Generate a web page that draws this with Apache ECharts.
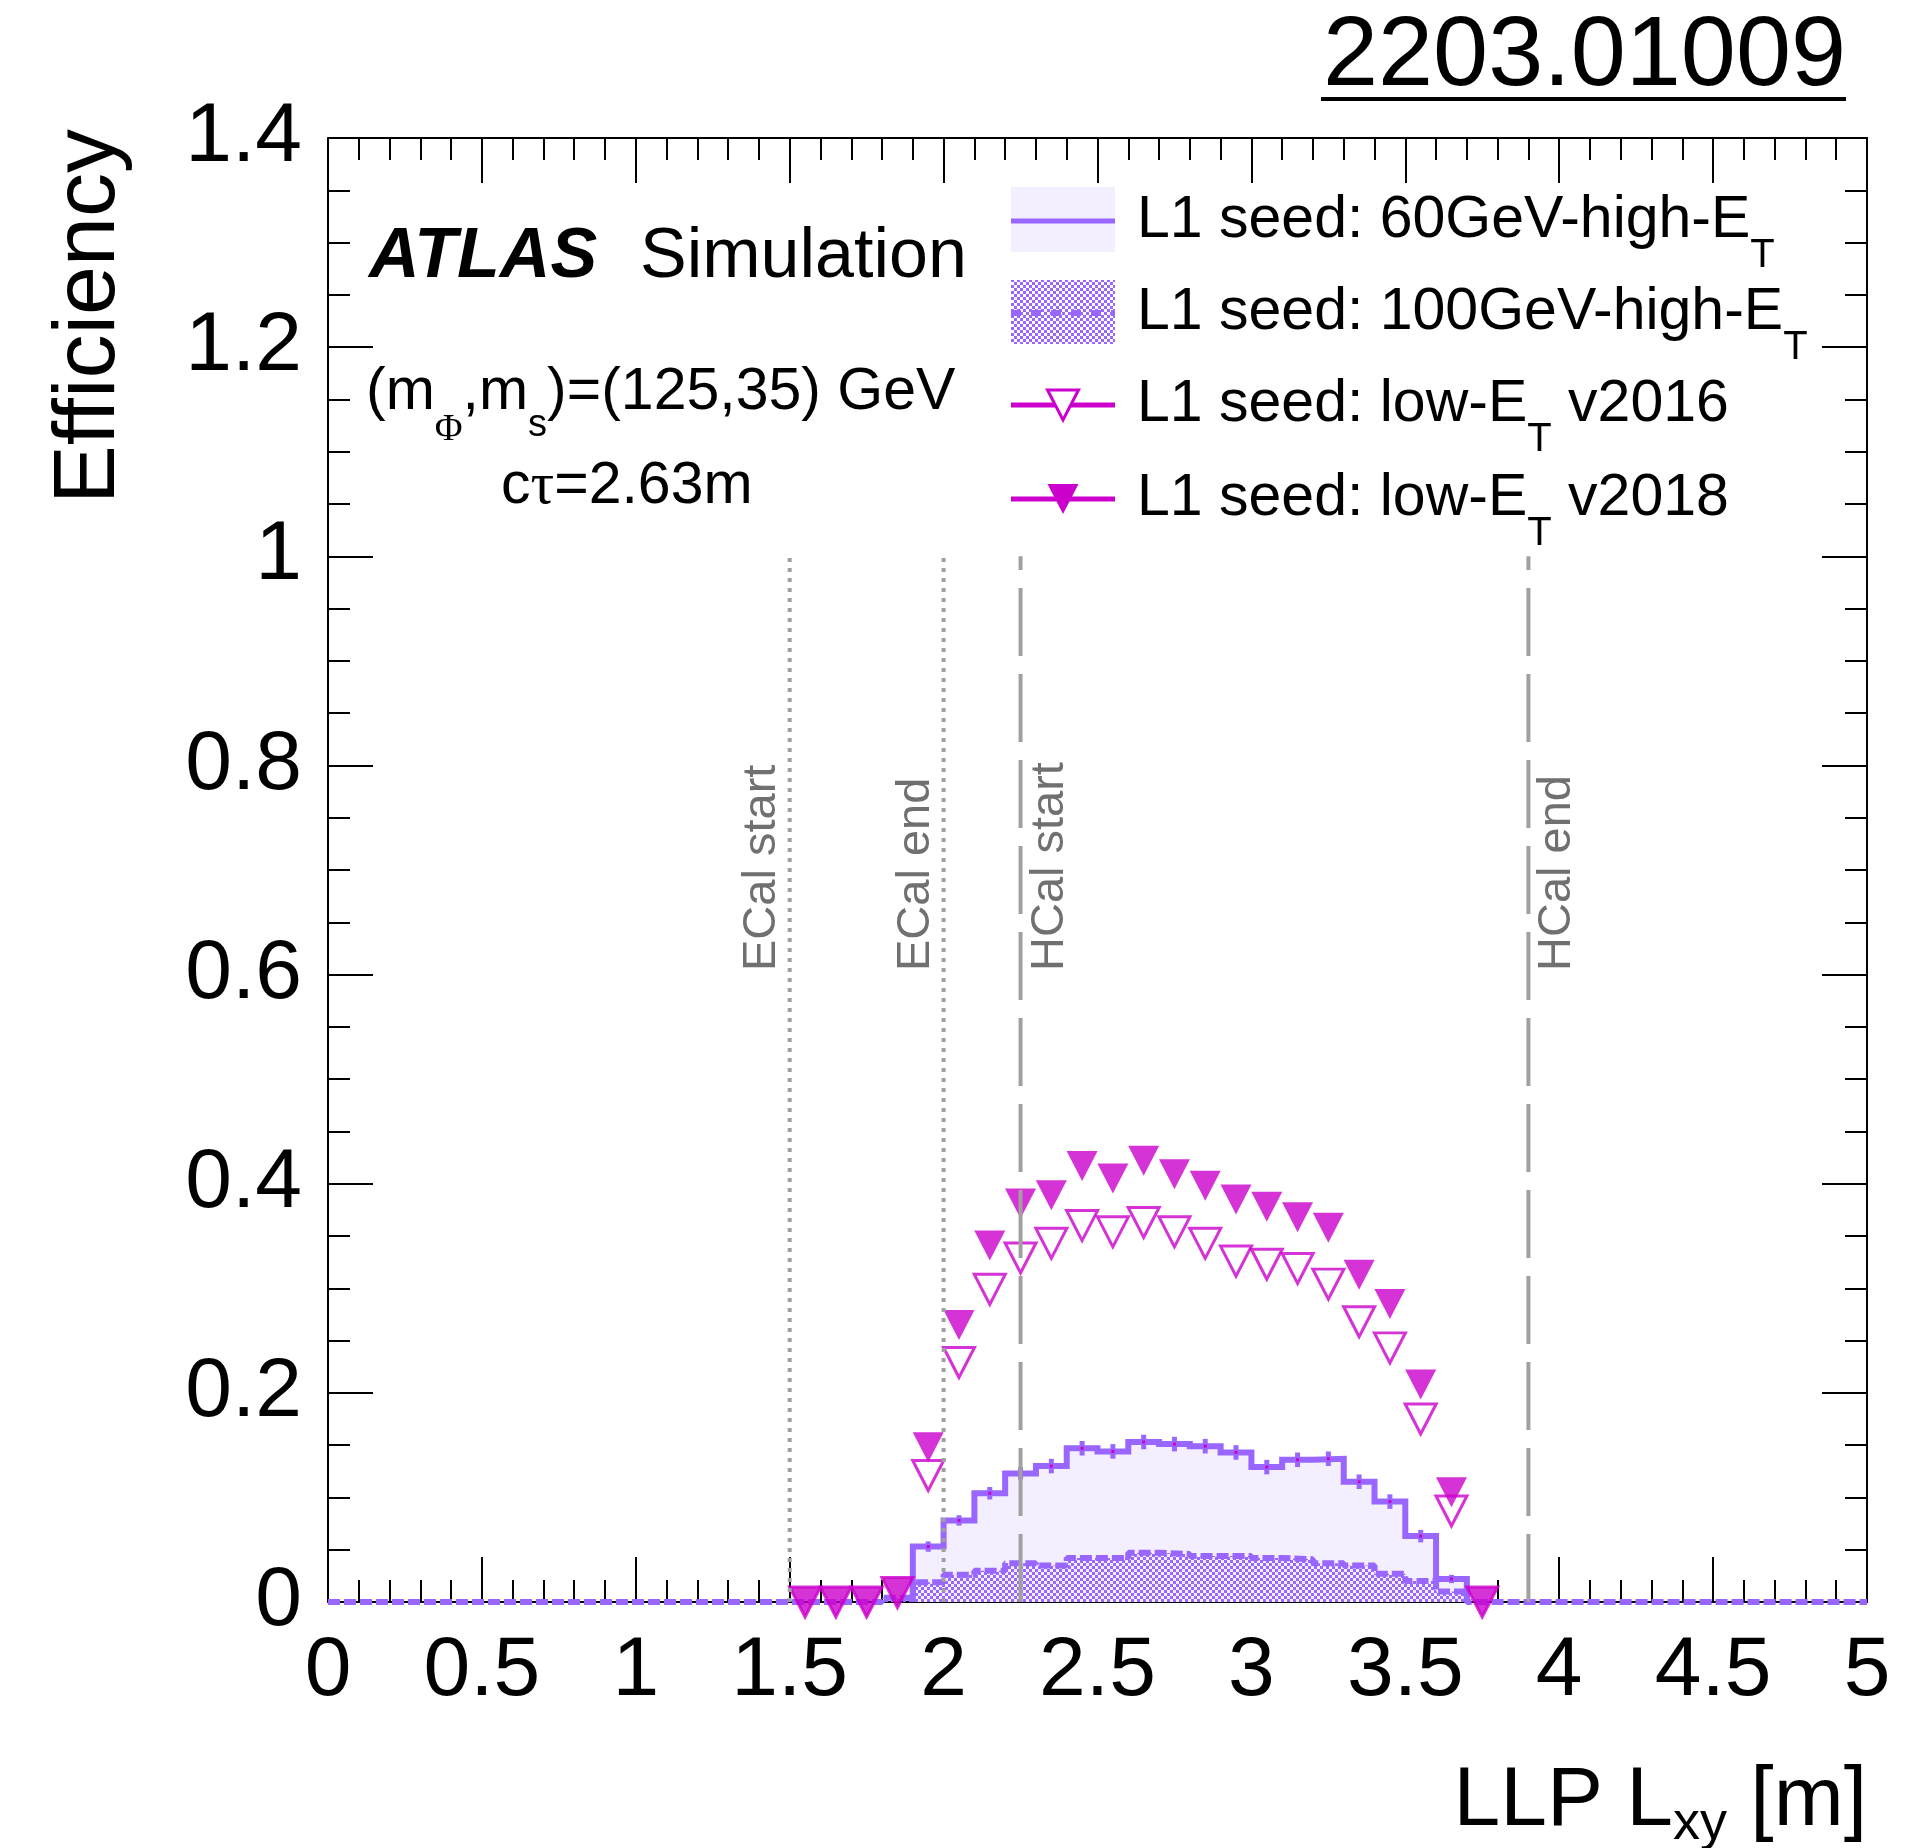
<!DOCTYPE html>
<html>
<head>
<meta charset="utf-8">
<script src="https://cdn.jsdelivr.net/npm/echarts@6/dist/echarts.min.js"></script>
<style>
  html, body { margin: 0; padding: 0; background: #fff; }
  #chart { width: 1927px; height: 1848px; }
</style>
</head>
<body>
<div id="chart"></div>
<script>
// bin edges of the LLP Lxy histograms [m]
const binEdges = [0, 0.1, 0.2, 0.3, 0.4, 0.5, 0.6, 0.7, 0.8, 0.9,
  1.0, 1.1, 1.2, 1.3, 1.4, 1.5, 1.6, 1.7, 1.8, 1.9,
  2.0, 2.1, 2.2, 2.3, 2.4, 2.5, 2.6, 2.7, 2.8, 2.9,
  3.0, 3.1, 3.2, 3.3, 3.4, 3.5, 3.6, 3.7, 3.8, 3.9,
  4.0, 4.1, 4.2, 4.3, 4.4, 4.5, 4.6, 4.7, 4.8, 4.9, 5.0];

// L1 seed: 60GeV-high-ET (one value per bin)
const eff60 = [0, 0, 0, 0, 0, 0, 0, 0, 0, 0,
  0, 0, 0, 0, 0, 0, 0, 0, 0, 0.053,
  0.078, 0.104, 0.123, 0.130, 0.147, 0.144, 0.153, 0.151, 0.149, 0.143,
  0.129, 0.136, 0.137, 0.115, 0.096, 0.063, 0.022, 0, 0, 0,
  0, 0, 0, 0, 0, 0, 0, 0, 0, 0];
const err60 = [0, 0, 0, 0, 0, 0, 0, 0, 0, 0,
  0, 0, 0, 0, 0, 0, 0, 0, 0, 0.004,
  0.004, 0.005, 0.005, 0.006, 0.006, 0.006, 0.006, 0.006, 0.006, 0.006,
  0.006, 0.006, 0.006, 0.006, 0.006, 0.005, 0.003, 0, 0, 0,
  0, 0, 0, 0, 0, 0, 0, 0, 0, 0];

// L1 seed: 100GeV-high-ET
const eff100 = [0, 0, 0, 0, 0, 0, 0, 0, 0, 0,
  0, 0, 0, 0, 0, 0, 0, 0, 0.004, 0.019,
  0.026, 0.030, 0.037, 0.035, 0.042, 0.042, 0.047, 0.046, 0.044, 0.044,
  0.042, 0.041, 0.037, 0.035, 0.027, 0.020, 0.010, 0, 0, 0,
  0, 0, 0, 0, 0, 0, 0, 0, 0, 0];

// low-ET seeds, points at bin centres
const lowEtX = [1.55, 1.65, 1.75, 1.85, 1.95, 2.05, 2.15, 2.25, 2.35, 2.45, 2.55, 2.65,
  2.75, 2.85, 2.95, 3.05, 3.15, 3.25, 3.35, 3.45, 3.55, 3.65, 3.75];
const eff2016 = [0, 0, 0, 0.009, 0.121, 0.229, 0.299, 0.329, 0.343, 0.360, 0.354, 0.363,
  0.354, 0.343, 0.326, 0.323, 0.319, 0.304, 0.268, 0.243, 0.175, 0.087, 0];
const eff2018 = [0, 0, 0, 0.009, 0.148, 0.265, 0.341, 0.381, 0.389, 0.417, 0.405, 0.422,
  0.409, 0.398, 0.385, 0.378, 0.368, 0.358, 0.313, 0.285, 0.208, 0.105, 0];

// calorimeter boundaries
const caloX = [1.5, 2.0, 2.25, 3.9];
const caloNames = ['ECal start', 'ECal end', 'HCal start', 'HCal end'];
const caloDotted = [true, true, false, false];

const legendNames = ['L1 seed: 60GeV-high-E', 'L1 seed: 100GeV-high-E', 'L1 seed: low-E', 'L1 seed: low-E'];
const legendTails = ['', '', ' v2016', ' v2018'];

const FONT = '"Liberation Sans", Arial, Helvetica, sans-serif';
const PURPLE = '#9966ff';
const LAVENDER = '#f3efff';
const MAGENTA = '#cc00cc';
const GREY = '#a0a0a0';

// checkerboard used for the 100 GeV fill
const pat = document.createElement('canvas');
pat.width = 6; pat.height = 6;
const pc = pat.getContext('2d');
pc.fillStyle = PURPLE;
pc.fillRect(0, 0, 3, 3);
pc.fillRect(3, 3, 3, 3);
const checker = { image: pat, repeat: 'repeat' };

function stepPoints(vals, trim) {
  let first = 0, last = vals.length - 1;
  if (trim) {
    while (first < last && vals[first] === 0) first++;
    while (last > first && vals[last] === 0) last--;
  }
  const pts = [[binEdges[first], 0]];
  for (let i = first; i <= last; i++) {
    pts.push([binEdges[i], vals[i]]);
    pts.push([binEdges[i + 1], vals[i]]);
  }
  pts.push([binEdges[last + 1], 0]);
  return pts;
}

const errData = [];
eff60.forEach((v, i) => {
  if (v > 0) errData.push([(binEdges[i] + binEdges[i + 1]) / 2, v, err60[i]]);
});

const chart = echarts.init(document.getElementById('chart'));

const tickStyle = { color: '#000', width: 2 };
function mkAxis(pos, extra) {
  return Object.assign({
    type: 'value',
    position: pos,
    axisLine: { show: true, onZero: false, lineStyle: { color: '#000', width: 2 } },
    axisTick: { show: true, inside: true, length: 45, lineStyle: tickStyle },
    minorTick: { show: true, length: 22, lineStyle: tickStyle },
    splitLine: { show: false },
    minorSplitLine: { show: false },
    axisLabel: { show: false }
  }, extra);
}
const labelStyle = { show: true, fontFamily: FONT, fontSize: 84, color: '#000' };

const series = [
  {
    name: '60GeV', type: 'line', data: stepPoints(eff60, true),
    symbol: 'none', clip: false, z: 2,
    lineStyle: { color: PURPLE, width: 6, join: 'miter' },
    areaStyle: { color: LAVENDER, opacity: 1 }
  },
  {
    name: '100GeV', type: 'line', data: stepPoints(eff100, false),
    symbol: 'none', clip: false, z: 3,
    lineStyle: { color: PURPLE, width: 6, type: [12, 4] },
    areaStyle: { color: checker, opacity: 1 }
  },
  {
    name: 'err60', type: 'custom', data: errData, z: 4,
    renderItem: (params, api) => {
      const x = api.value(0), v = api.value(1), e = api.value(2);
      const top = api.coord([x, v + e]);
      const bot = api.coord([x, v - e]);
      const c = api.coord([x, v]);
      return {
        type: 'group',
        children: [
          { type: 'rect', shape: { x: top[0] - 2.5, y: top[1] - 1, width: 5, height: bot[1] - top[1] + 2 }, style: { fill: PURPLE } },
          { type: 'rect', shape: { x: c[0] - 1.5, y: c[1] - 1.5, width: 3, height: 3 }, style: { fill: MAGENTA } }
        ]
      };
    }
  },
  {
    name: 'v2016', type: 'scatter', data: lowEtX.map((x, i) => [x, eff2016[i]]),
    symbol: 'triangle', symbolRotate: 180, symbolSize: [31, 30], clip: false, z: 5,
    itemStyle: { color: 'rgba(0,0,0,0)', borderColor: MAGENTA, borderWidth: 3 }
  },
  {
    name: 'v2018', type: 'scatter', data: lowEtX.map((x, i) => [x, eff2018[i]]),
    symbol: 'triangle', symbolRotate: 180, symbolSize: [31, 30], clip: false, z: 6,
    itemStyle: { color: MAGENTA }
  }
];
caloX.forEach((x, i) => {
  series.push({
    name: caloNames[i], type: 'line', data: [[x, 0], [x, 1]],
    symbol: 'none', clip: false, z: 7,
    lineStyle: caloDotted[i]
      ? { color: GREY, width: 4, type: [4, 6] }
      : { color: GREY, width: 4, type: [68, 18] }
  });
});

chart.setOption({
  animation: false,
  backgroundColor: '#fff',
  grid: { left: 328, top: 138, width: 1539, height: 1464 },
  xAxis: [
    mkAxis('bottom', { min: 0, max: 5, interval: 0.5, minorTick: { show: true, splitNumber: 5, length: 22, lineStyle: tickStyle },
      axisLabel: Object.assign({ margin: 28 }, labelStyle) }),
    mkAxis('top', { min: 0, max: 5, interval: 0.5, minorTick: { show: true, splitNumber: 5, length: 22, lineStyle: tickStyle } })
  ],
  yAxis: [
    mkAxis('left', { min: 0, max: 1.4, interval: 0.2, minorTick: { show: true, splitNumber: 4, length: 22, lineStyle: tickStyle },
      axisLabel: Object.assign({ margin: 26 }, labelStyle) }),
    mkAxis('right', { min: 0, max: 1.4, interval: 0.2, minorTick: { show: true, splitNumber: 4, length: 22, lineStyle: tickStyle } })
  ],
  series: series
});

// ---- texts and legend ----
const mctx = document.createElement('canvas').getContext('2d');
function fontStr(size, opts) {
  return (opts.style || 'normal') + ' ' + (opts.weight || 'normal') + ' ' + size + 'px ' + (opts.family || FONT);
}
function textW(str, font) { mctx.font = font; return mctx.measureText(str).width; }
// lay out a run of pieces (for subscripts), y = centre of main text
function run(parts, x, y, align, fill) {
  const pieces = parts.map(p => Object.assign({ dy: 0 }, p, { font: fontStr(p.size, p) }));
  const total = pieces.reduce((s, p) => s + textW(p.t, p.font), 0);
  let cx = align === 'right' ? x - total : x;
  return pieces.map(p => {
    const el = { type: 'text', x: cx, y: y + p.dy, z: 100,
      style: { text: p.t, font: p.font, fill: p.fill || fill || '#000', align: 'left', verticalAlign: 'middle' } };
    cx += textW(p.t, p.font);
    return el;
  });
}

const gfx = [];
// arXiv number, underlined
gfx.push(...run([{ t: '2203.01009', size: 99 }], 1846, 58, 'right'));
gfx.push({ type: 'rect', shape: { x: 1321, y: 97, width: 525, height: 4 }, style: { fill: '#000' }, z: 100 });

gfx.push(...run([{ t: 'ATLAS', size: 70, weight: 'bold', style: 'italic' }], 369, 258, 'left'));
gfx.push(...run([{ t: 'Simulation', size: 70 }], 640, 258, 'left'));
gfx.push(...run([
  { t: '(m', size: 59 },
  { t: 'Φ', size: 38, dy: 37, family: '"Liberation Serif", serif' },
  { t: ',m', size: 59 },
  { t: 's', size: 38, dy: 33 },
  { t: ')=(125,35) GeV', size: 59 }
], 366, 393, 'left'));
gfx.push(...run([
  { t: 'c', size: 59 },
  { t: 'τ', size: 59, family: '"Liberation Serif", serif' },
  { t: '=2.63m', size: 59 }
], 501, 487, 'left'));

// axis titles
gfx.push(...run([
  { t: 'LLP L', size: 84 },
  { t: 'xy', size: 54, dy: 22 },
  { t: ' [m]', size: 84 }
], 1867, 1802, 'right'));
gfx.push({ type: 'text', x: 90, y: 129, rotation: Math.PI / 2, z: 100,
  style: { text: 'Efficiency', font: fontStr(88, {}), fill: '#000', align: 'right', verticalAlign: 'middle' } });

// legend
const legRowY = [221, 313, 405, 499];
const legX0 = 1011, legX1 = 1115, legTextX = 1137;
gfx.push({ type: 'rect', shape: { x: legX0, y: 187, width: legX1 - legX0, height: 65 }, style: { fill: LAVENDER }, z: 90 });
gfx.push({ type: 'line', shape: { x1: legX0, y1: legRowY[0], x2: legX1, y2: legRowY[0] }, style: { stroke: PURPLE, lineWidth: 5 }, z: 91 });
gfx.push({ type: 'rect', shape: { x: legX0, y: 280, width: legX1 - legX0, height: 64 }, style: { fill: checker }, z: 90 });
gfx.push({ type: 'line', shape: { x1: legX0, y1: legRowY[1], x2: legX1, y2: legRowY[1] }, style: { stroke: PURPLE, lineWidth: 6, lineDash: [10, 10] }, z: 91 });
[2, 3].forEach(r => {
  const yc = legRowY[r], xc = (legX0 + legX1) / 2;
  gfx.push({ type: 'line', shape: { x1: legX0, y1: yc, x2: legX1, y2: yc }, style: { stroke: MAGENTA, lineWidth: 5 }, z: 91 });
  gfx.push({ type: 'polygon', shape: { points: [[xc - 15.5, yc - 15], [xc + 15.5, yc - 15], [xc, yc + 15]] },
    style: r === 2 ? { fill: '#fff', stroke: MAGENTA, lineWidth: 3 } : { fill: MAGENTA }, z: 92 });
});
legendNames.forEach((name, r) => {
  const parts = [{ t: name, size: 59 }, { t: 'T', size: 40, dy: 35 }];
  if (legendTails[r]) parts.push({ t: legendTails[r], size: 59 });
  gfx.push(...run(parts, legTextX, legRowY[r], 'left'));
});

// calorimeter labels, placed from the data x positions
const labelOffset = [-28, -28, 29, 29];
caloX.forEach((x, i) => {
  const p = chart.convertToPixel({ xAxisIndex: 0, yAxisIndex: 0 }, [x, 0]);
  gfx.push({ type: 'text', x: p[0] + labelOffset[i], y: 971, rotation: Math.PI / 2, z: 100,
    style: { text: caloNames[i], font: fontStr(47, {}), fill: '#707070', align: 'left', verticalAlign: 'middle' } });
});

chart.setOption({ graphic: gfx });
</script>
</body>
</html>
